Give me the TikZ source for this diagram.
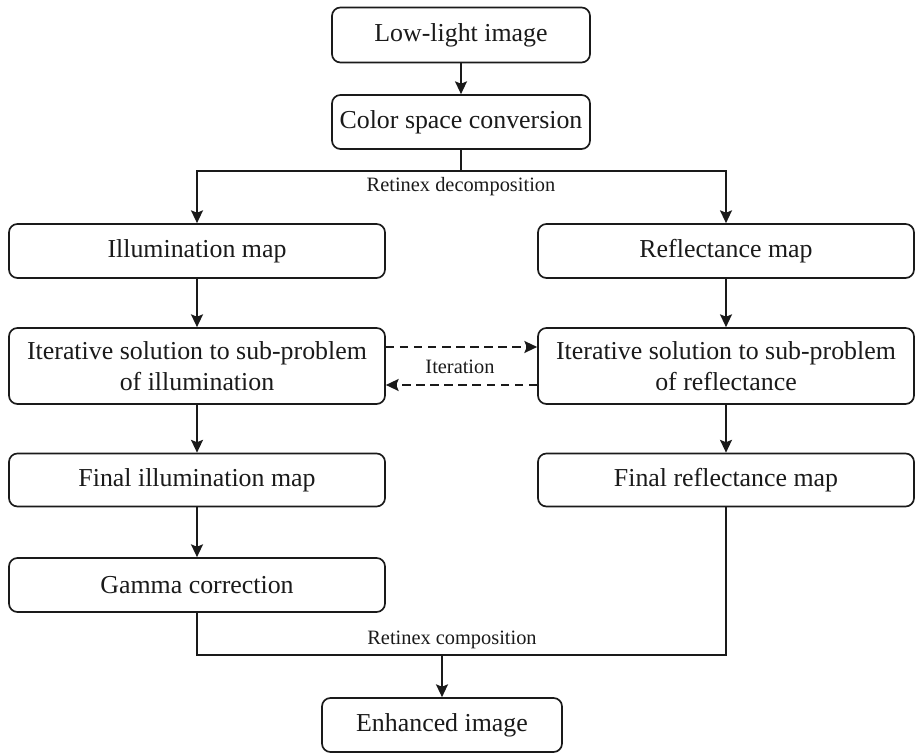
\documentclass[tikz,border=0pt]{standalone}
\usepackage{fontspec}
\setmainfont{Liberation Serif}
\usetikzlibrary{arrows.meta,positioning,calc}
\definecolor{Ink}{HTML}{1A1A1A}
\tikzset{stagebox/.style={rectangle,rounded corners=6pt,draw=Ink,line width=1.2pt,fill=white,align=center,text=Ink,font=\fontsize{18.4}{22}\selectfont,inner sep=0pt},sidebox/.style={stagebox,minimum width=9.4cm},flow/.style={draw=Ink,line width=1.2pt},arrow/.style={flow,-{Stealth[length=3.2mm,width=3mm,inset=0.6mm]}},loop/.style={arrow,dashed,dash pattern=on 6pt off 4pt},steplabel/.style={text=Ink,font=\fontsize{14.5}{17}\selectfont,inner sep=1pt}}
\begin{document}
\begin{tikzpicture}[x=1cm,y=1cm]
\useasboundingbox (0,0) rectangle (22.875,18.825);
\node[stagebox,minimum width=6.45cm,minimum height=1.375cm] (low) at (11.525,17.95) {Low-light image};\node[stagebox,minimum width=6.45cm,minimum height=1.35cm] (csc) at (11.525,15.775) {Color space conversion};
\coordinate (dec) at (11.525,14.55);\draw[flow] (csc) -- (dec);\node[steplabel] (declbl) at (11.525,14.15) {Retinex decomposition};
\node[sidebox,minimum height=1.35cm] (illum) at (4.925,12.55) {Illumination map};\node[sidebox,minimum height=1.35cm] (refl) at (18.15,12.55) {Reflectance map};
\node[sidebox,minimum height=1.9cm] (iterL) at (4.925,9.675) {Iterative solution to sub-problem\\of illumination};\node[sidebox,minimum height=1.9cm] (iterR) at (18.15,9.675) {Iterative solution to sub-problem\\of reflectance};
\node[sidebox,minimum height=1.325cm] (finL) at (4.925,6.825) {Final illumination map};\node[sidebox,minimum height=1.325cm] (finR) at (18.15,6.825) {Final reflectance map};
\node[sidebox,minimum height=1.35cm] (gamma) at (4.925,4.2) {Gamma correction};
\coordinate (comp) at (11.05,2.45);\node[steplabel] (complbl) at (11.3,2.83) {Retinex composition};
\node[stagebox,minimum width=6.0cm,minimum height=1.35cm] (enh) at (11.05,0.7) {Enhanced image};
\draw[arrow] (low) -- (csc);\draw[arrow] (dec) -| (illum);\draw[arrow] (dec) -| (refl);
\draw[arrow] (illum) -- (iterL);\draw[arrow] (refl) -- (iterR);\draw[arrow] (iterL) -- (finL);\draw[arrow] (iterR) -- (finR);\draw[arrow] (finL) -- (gamma);
\draw[loop] ([yshift=0.475cm]iterL.east) -- ([yshift=0.475cm]iterR.west);\draw[loop] ([yshift=-0.475cm]iterR.west) -- ([yshift=-0.475cm]iterL.east);\node[steplabel] (iterlbl) at (11.5,9.65) {Iteration};
\draw[flow] (gamma) |- (comp) -| (finR);\draw[arrow] (comp) -- (enh);
\end{tikzpicture}
\end{document}
